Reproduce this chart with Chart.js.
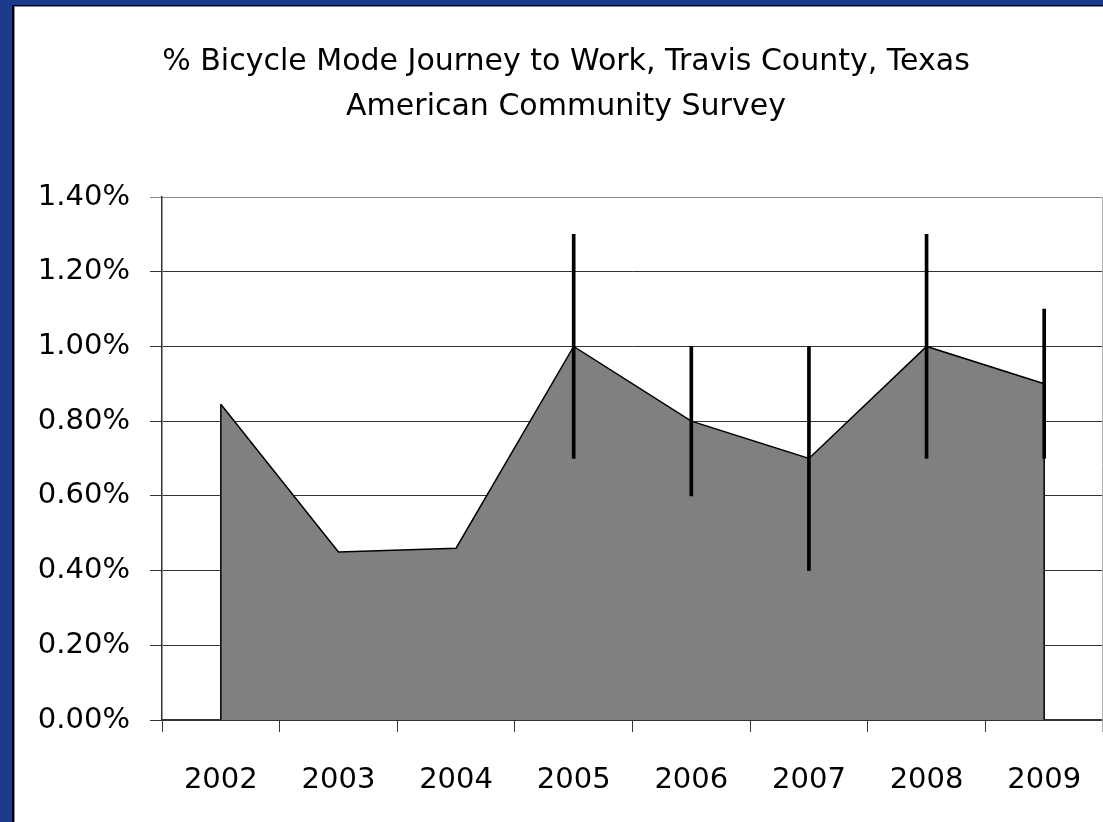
<!DOCTYPE html>
<html>
<head>
<meta charset="utf-8">
<script src="https://cdn.jsdelivr.net/npm/chart.js@4.4.1/dist/chart.umd.min.js"></script>
<style>
  html, body { margin: 0; padding: 0; background: #fff; }
  #wrap { position: relative; width: 1103px; height: 822px; overflow: hidden; }
  #chart { position: absolute; left: 0; top: 0; }
  .edge { position: absolute; }
</style>
</head>
<body>
<div id="wrap">
  <canvas id="chart" width="1103" height="822"></canvas>
  <!-- slide frame: blue band, then a dark rule -->
  <div class="edge" style="left:0;top:0;width:12px;height:822px;background:#1b3a8c;"></div>
  <div class="edge" style="left:0;top:0;width:1103px;height:5px;background:#1b3a8c;"></div>
  <div class="edge" style="left:12px;top:5px;width:2px;height:817px;background:#000;"></div>
  <div class="edge" style="left:12px;top:5px;width:1091px;height:1px;background:#000;"></div>
  <div class="edge" style="left:14px;top:6px;width:1px;height:816px;background:#8a8a8a;"></div>
  <div class="edge" style="left:14px;top:6px;width:1089px;height:1px;background:#8a8a8a;"></div>
</div>
<script>
// Values (percent of commuters)
const years = ["2002", "2003", "2004", "2005", "2006", "2007", "2008", "2009"];
const bikeShare = [0.845, 0.45, 0.46, 1.00, 0.80, 0.70, 1.00, 0.90];
// margin of error range, only published from 2005 on
const moeLow = [null, null, null, 0.70, 0.60, 0.40, 0.70, 0.70];
const moeHigh = [null, null, null, 1.30, 1.00, 1.00, 1.30, 1.10];
const yTicks = [0, 0.2, 0.4, 0.6, 0.8, 1.0, 1.2, 1.4];

const tickFont = { family: "'DejaVu Sans', sans-serif", size: 29 };

// error bars as thin floating bars
const moeRanges = moeLow.map((lo, i) => (lo === null ? null : [lo, moeHigh[i]]));

// closes the area outline with vertical edges at the first and last point
const areaEdges = {
    id: "areaEdges",
    afterDatasetDraw(chart, args) {
        if (args.index !== 1) return;
        const pts = args.meta.data;
        const y0 = chart.scales.y.getPixelForValue(0);
        const ctx = chart.ctx;
        ctx.save();
        ctx.strokeStyle = "#000";
        ctx.lineWidth = 1.5;
        [pts[0], pts[pts.length - 1]].forEach((p) => {
            ctx.beginPath();
            ctx.moveTo(p.x, p.y);
            ctx.lineTo(p.x, y0);
            ctx.stroke();
        });
        ctx.restore();
    },
    beforeDatasetsDraw(chart) {
        const a = chart.chartArea;
        const ctx = chart.ctx;
        ctx.save();
        ctx.strokeStyle = "#b0b0b0";
        ctx.lineWidth = 1;
        ctx.beginPath();
        ctx.moveTo(a.right - 0.5, a.top);
        ctx.lineTo(a.right - 0.5, a.bottom + 12);
        ctx.stroke();
        ctx.restore();
    },
};

new Chart(document.getElementById("chart"), {
    data: {
        labels: years,
        datasets: [
            {
                type: "bar",
                label: "Margin of error",
                data: moeRanges,
                backgroundColor: "#000",
                barThickness: 3,
                order: 0,
            },
            {
                type: "line",
                label: "% Bicycle",
                data: bikeShare,
                borderColor: "#000",
                borderWidth: 1.5,
                backgroundColor: "#808080",
                fill: "origin",
                tension: 0,
                pointRadius: 0,
                order: 1,
            },
        ],
    },
    options: {
        responsive: false,
        animation: false,
        devicePixelRatio: 1,
        layout: { padding: { left: 29, right: 0, top: 0, bottom: 0 } },
        plugins: {
            legend: { display: false },
            tooltip: { enabled: false },
            title: {
                display: true,
                text: ["% Bicycle Mode Journey to Work, Travis County, Texas", "American Community Survey"],
                color: "#000",
                font: { family: "'DejaVu Sans', sans-serif", size: 30, weight: "normal", lineHeight: 1.5 },
                padding: { top: 40, bottom: 67 },
            },
        },
        scales: {
            x: {
                offset: true,
                grid: {
                    offset: true,
                    drawOnChartArea: false,
                    tickLength: 12,
                    color: "#333",
                    lineWidth: 1,
                },
                border: { color: "#333", width: 1.5 },
                ticks: { color: "#000", font: tickFont, padding: 31, maxRotation: 0 },
                afterFit(scale) {
                    scale.height = 102;
                    // plot runs right up to the edge of the picture
                    scale.paddingLeft = 0;
                    scale.paddingRight = 0;
                },
            },
            y: {
                min: 0,
                max: 1.4,
                afterBuildTicks(scale) {
                    scale.ticks = yTicks.map((v) => ({ value: v }));
                },
                grid: {
                    tickLength: 12,
                    color: (c) => (c.index === yTicks.length - 1 ? "#8a8a8a" : "#333"),
                    lineWidth: 1,
                },
                border: { color: "#333", width: 1.5 },
                ticks: {
                    color: "#000",
                    font: tickFont,
                    padding: 20,
                    callback: (v) => Number(v).toFixed(2) + "%",
                },
                afterFit(scale) {
                    scale.width = 133;
                },
            },
        },
    },
    plugins: [areaEdges],
});
</script>
</body>
</html>
